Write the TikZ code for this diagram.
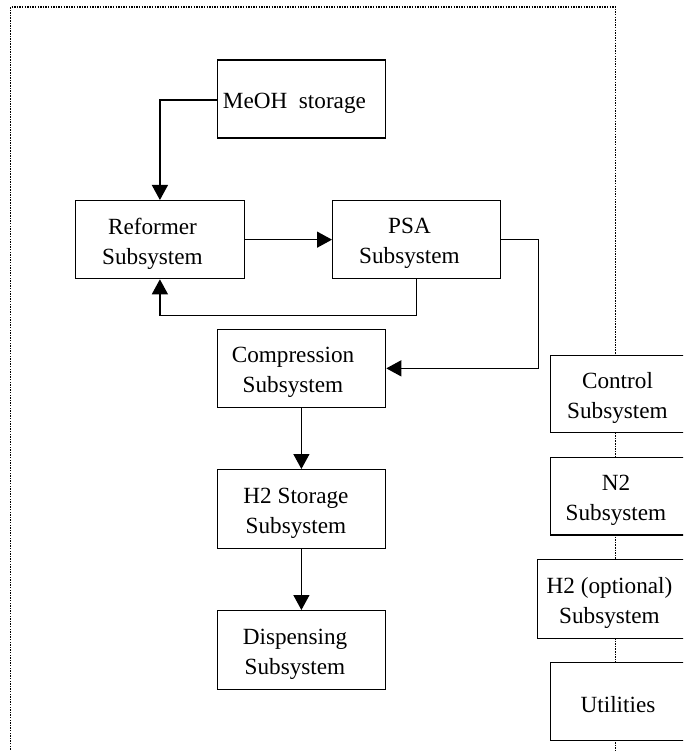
\documentclass[tikz,border=0pt]{standalone}
\usepackage{fontspec}
\setmainfont{Liberation Serif}
\usetikzlibrary{arrows.meta}
\begin{document}
\begin{tikzpicture}[x=1pt,y=-1pt,
  box/.style={draw,fill=white,line width=1.3pt,rectangle,inner sep=0pt,anchor=north west},
  lbl/.style={font=\fontsize{23.2}{30}\selectfont,align=center,inner sep=0pt},
  arr/.style={line width=1.3pt,-{Triangle[length=15pt,width=16pt]}},
  dotline/.style={line width=1.8pt,dash pattern=on 1.5pt off 1.1pt}]
\useasboundingbox (0,0) rectangle (683,751);
\clip (0,0) rectangle (683,751);
\fill[white] (0,0) rectangle (683,751);
% dotted boundary
\coordinate (bl) at (10.5,760);
\coordinate (tl) at (10.5,7);
\coordinate (tr) at (615.5,7);
\coordinate (br) at (615.5,760);
\draw[dotline] (bl) -- (tl) -- (tr) -- (br);
% boxes
\node[box,minimum width=168pt,minimum height=78pt] (meoh) at (216.5,59.5) {};
\node[box,minimum width=168.5pt,minimum height=78pt] (ref) at (75,200) {};
\node[box,minimum width=168pt,minimum height=78pt] (psa) at (332,200) {};
\node[box,minimum width=168.5pt,minimum height=78.4pt] (comp) at (216.5,328.5) {};
\node[box,minimum width=168.5pt,minimum height=78.5pt] (h2s) at (216.5,469) {};
\node[box,minimum width=168.5pt,minimum height=79pt] (disp) at (216.5,610) {};
\node[box,minimum width=160pt,minimum height=77.5pt] (ctrl) at (549.5,354.5) {};
\node[box,minimum width=160pt,minimum height=77.5pt] (n2) at (549.5,456.7) {};
\node[box,minimum width=170pt,minimum height=78.7pt] (h2o) at (536.7,559) {};
\node[box,minimum width=160pt,minimum height=78pt] (util) at (549.5,662) {};
% labels
\node[lbl,anchor=base west] (tmeoh) at (222.7,108.3) {MeOH~ storage};
\node[lbl] (tref) at (152.5,243.7) {Reformer\\Subsystem};
\node[lbl] (tpsa) at (409.5,243.7) {PSA\\Subsystem};
\node[lbl] (tcomp) at (293,372.2) {Compression\\Subsystem};
\node[lbl] (th2s) at (296,513) {H2 Storage\\Subsystem};
\node[lbl] (tdisp) at (295,654.2) {Dispensing\\Subsystem};
\node[lbl] (tctrl) at (617.5,397.7) {Control\\Subsystem};
\node[lbl] (tn2) at (616,500) {N2\\Subsystem};
\node[lbl] (th2o) at (609.5,603) {H2 (optional)\\Subsystem};
\node[lbl,anchor=base] (tutil) at (618,712.5) {Utilities};
% connectors
\draw[arr] ([yshift=-1pt]meoh.west) -| (ref.north);
\draw[arr] (ref.east) -- (psa.west);
\draw[arr] (psa.south) -- ++(0,36.5) -| (ref.south);
\draw[arr] (psa.east) -- ++(37,0) |- (comp.east);
\draw[arr] (comp.south) -- (h2s.north);
\draw[arr] (h2s.south) -- (disp.north);
\end{tikzpicture}
\end{document}
